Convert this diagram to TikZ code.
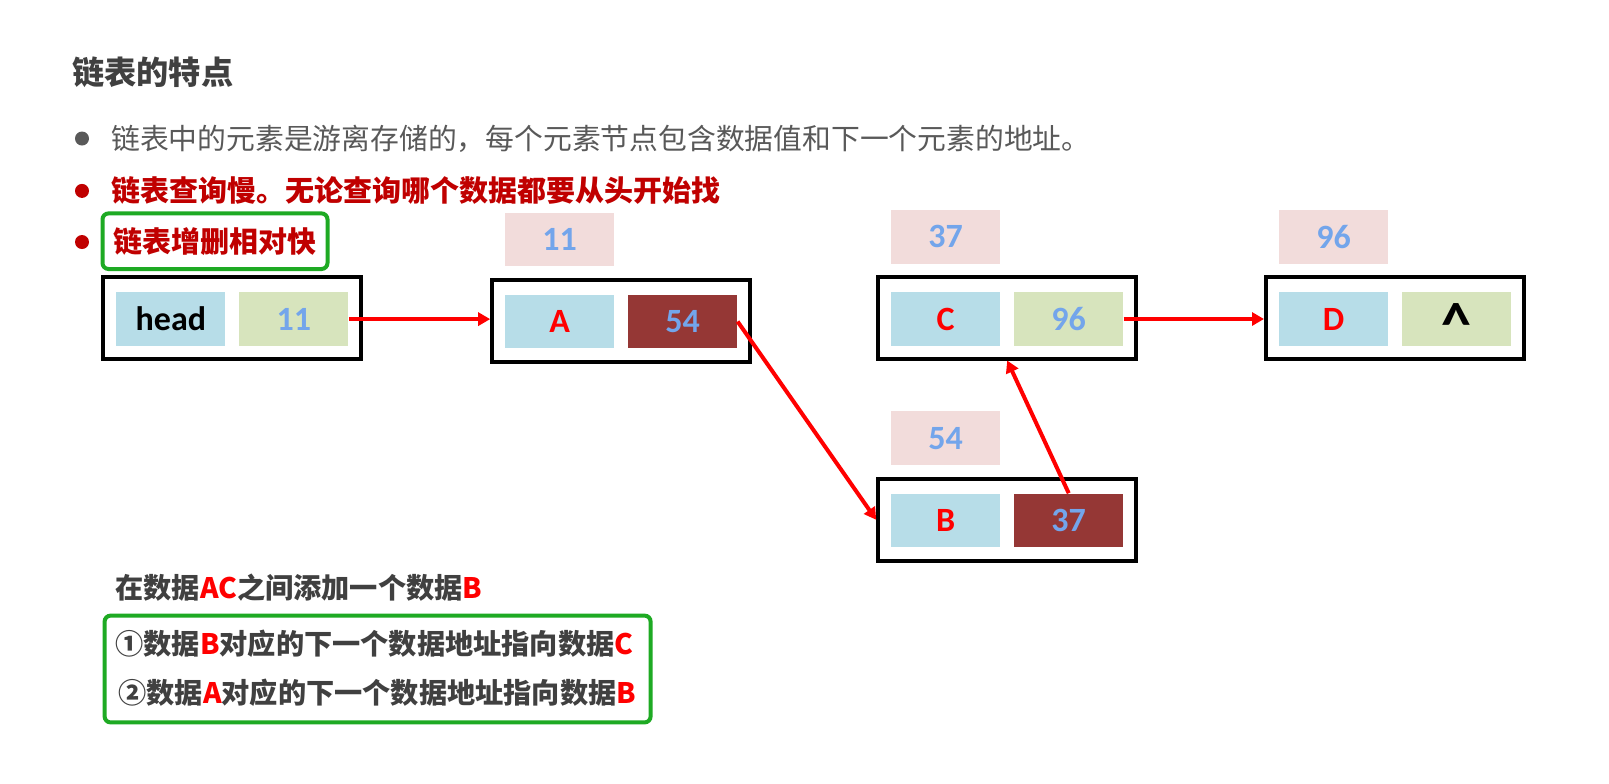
\documentclass[tikz,border=0pt]{standalone}
\usepackage{fontspec}
\usepackage{xcolor}
\usepackage{tikz}
\usetikzlibrary{arrows.meta,positioning}

\setmainfont{Carlito}
\newfontfamily\cjk{Noto Sans CJK SC}

\definecolor{cellblue}{RGB}{183,221,232}
\definecolor{cellgreen}{RGB}{215,228,189}
\definecolor{celldark}{RGB}{149,55,53}
\definecolor{addrpink}{RGB}{242,220,219}
\definecolor{numblue}{RGB}{115,165,235}
\definecolor{letterred}{RGB}{255,0,0}
\definecolor{darkred}{RGB}{192,0,0}
\definecolor{boxgreen}{RGB}{30,170,35}
\definecolor{textgray}{RGB}{64,64,64}
\definecolor{lightgray}{RGB}{89,89,89}

\begin{document}
\begin{tikzpicture}[x=0.5pt, y={(0pt,-0.5pt)},
	cell/.style={minimum width=54.5pt, minimum height=26.7pt, inner sep=0pt, font=\bfseries\fontsize{17}{17}\selectfont},
	datacell/.style={cell, fill=cellblue, text=letterred},
	nextcell/.style={cell, fill=cellgreen, text=numblue},
	movedcell/.style={cell, fill=celldark, text=numblue},
	addr/.style={cell, fill=addrpink, text=numblue},
	listnode/.style={draw=black, line width=2pt, minimum width=129pt, minimum height=41pt, inner sep=0pt},
	link/.style={draw=letterred, line width=2pt, -{Triangle[length=6pt, width=6.5pt]}},
	greenbox/.style={draw=boxgreen, line width=2pt, rounded corners=3pt, inner sep=0pt},
	dot/.style={circle, inner sep=0pt, minimum size=7pt},
	bullettext/.style={anchor=west, inner sep=0pt, font=\cjk\fontsize{14.4}{14.4}\selectfont},
	steptext/.style={anchor=west, inner sep=0pt, text=textgray, font=\cjk\bfseries\fontsize{14.1}{14.1}\selectfont}]

		\fill[white] (0,0) rectangle (1609,783);
		\useasboundingbox (0,0) rectangle (1609,783);

		% title and bullets
		\node[anchor=west, inner sep=0pt, text=textgray, font=\cjk\bfseries\fontsize{16.1}{16.1}\selectfont] (title) at (71.8,71.8) {链表的特点};
		\node[dot, fill=lightgray] (b1) at (82,138.5) {};
		\node[bullettext, text=lightgray] (slowstore) at (110.8,138.5) {链表中的元素是游离存储的，每个元素节点包含数据值和下一个元素的地址。};
		\node[dot, fill=darkred] (b2) at (82,190.9) {};
		\node[bullettext, text=darkred, font=\cjk\bfseries\fontsize{14.5}{14.5}\selectfont] (slowquery) at (110.8,190.9) {链表查询慢。无论查询哪个数据都要从头开始找};
		\node[dot, fill=darkred] (b3) at (82,242) {};
		\node[bullettext, greenbox, inner xsep=5.5pt, minimum height=27.8pt, text=darkred, font=\cjk\bfseries\fontsize{14.5}{14.5}\selectfont] (fast) at (100.5,241.2) {链表增删相对快};

		% head
		\begin{scope}[shift={(232.4,318.1)}]
			\node[listnode] (head) at (0,0) {};
			\node[datacell, text=black] (headval) at (-61.5,1) {head};
			\node[nextcell] (headnext) at (61.5,1) {11};
		\end{scope}

		% node A
		\begin{scope}[shift={(621.2,320.5)}]
			\node[listnode] (nodeA) at (0,0) {};
			\node[datacell] (Aval) at (-61.5,1) {A};
			\node[movedcell] (Anext) at (61.5,1) {54};
		\end{scope}
		\node[addr, above=14pt of Aval] (addrA) {11};

		% node C
		\begin{scope}[shift={(1007.2,317.5)}]
			\node[listnode] (nodeC) at (0,0) {};
			\node[datacell] (Cval) at (-61.5,1.5) {C};
			\node[nextcell] (Cnext) at (61.5,1.5) {96};
		\end{scope}
		\node[addr, above=14pt of Cval] (addrC) {37};

		% node D
		\begin{scope}[shift={(1395,317.5)}]
			\node[listnode] (nodeD) at (0,0) {};
			\node[datacell] (Dval) at (-61.5,1.5) {D};
			\node[nextcell, text=black, font=\bfseries\fontsize{30}{30}\selectfont, text height=25pt, text depth=0pt] (Dnext) at (61.5,1.5) {\textasciicircum};
		\end{scope}
		\node[addr, above=14pt of Dval] (addrD) {96};

		% node B
		\begin{scope}[shift={(1007.2,519.8)}]
			\node[listnode] (nodeB) at (0,0) {};
			\node[datacell] (Bval) at (-61.5,0.5) {B};
			\node[movedcell] (Bnext) at (61.5,0.5) {37};
		\end{scope}
		\node[addr, above=14pt of Bval] (addrB) {54};

		% links
		\draw[link] (headnext.east) -- (headnext.east -| nodeA.west);
		\draw[link] (Anext.east) -- (nodeB.west);
		\draw[link] (Bnext.north) -- (nodeC.south);
		\draw[link] (Cnext.east) -- (Cnext.east -| nodeD.west);

		% insertion steps
		\node[steptext] (insert) at (115,588) {在数据\textcolor{letterred}{AC}之间添加一个数据\textcolor{letterred}{B}};
		\node[greenbox, minimum width=273pt, minimum height=53.4pt] (steps) at (377.6,669) {};
		\node[steptext] (step1) at (115,643.4) {①数据\textcolor{letterred}{B}对应的下一个数据地址指向数据\textcolor{letterred}{C}};
		\node[steptext] (step2) at (118,692.6) {②数据\textcolor{letterred}{A}对应的下一个数据地址指向数据\textcolor{letterred}{B}};
	\end{tikzpicture}
\end{document}
